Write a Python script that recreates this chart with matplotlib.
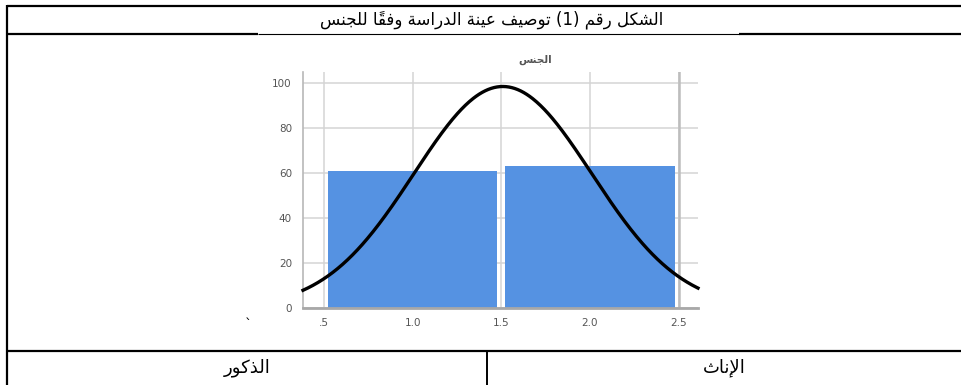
import numpy as np
import matplotlib
matplotlib.use("Agg")
import matplotlib.pyplot as plt
from matplotlib.lines import Line2D

# ---------------- data ----------------
categories = [1.0, 2.0]            # 1 = الذكور , 2 = الإناث
counts = [61, 63]
x_ticks = [0.5, 1.0, 1.5, 2.0, 2.5]
x_tick_labels = [".5", "1.0", "1.5", "2.0", "2.5"]
y_ticks = [0, 20, 40, 60, 80, 100]
chart_title = "الجنس"
figure_title = "الشكل رقم (1) توصيف عينة الدراسة وفقاً للجنس"
cell_labels = ["الذكور", "الإناث"]

# ---------------- minimal Arabic shaping ----------------
FORMS = {
    '\u0627': (0xFE8D, 0xFE8E, None, None), '\u0623': (0xFE83, 0xFE84, None, None),
    '\u0625': (0xFE87, 0xFE88, None, None), '\u0622': (0xFE81, 0xFE82, None, None),
    '\u0628': (0xFE8F, 0xFE90, 0xFE91, 0xFE92), '\u0629': (0xFE93, 0xFE94, None, None),
    '\u062A': (0xFE95, 0xFE96, 0xFE97, 0xFE98), '\u062B': (0xFE99, 0xFE9A, 0xFE9B, 0xFE9C),
    '\u062C': (0xFE9D, 0xFE9E, 0xFE9F, 0xFEA0), '\u062D': (0xFEA1, 0xFEA2, 0xFEA3, 0xFEA4),
    '\u062E': (0xFEA5, 0xFEA6, 0xFEA7, 0xFEA8), '\u062F': (0xFEA9, 0xFEAA, None, None),
    '\u0630': (0xFEAB, 0xFEAC, None, None), '\u0631': (0xFEAD, 0xFEAE, None, None),
    '\u0632': (0xFEAF, 0xFEB0, None, None), '\u0633': (0xFEB1, 0xFEB2, 0xFEB3, 0xFEB4),
    '\u0634': (0xFEB5, 0xFEB6, 0xFEB7, 0xFEB8), '\u0635': (0xFEB9, 0xFEBA, 0xFEBB, 0xFEBC),
    '\u0636': (0xFEBD, 0xFEBE, 0xFEBF, 0xFEC0), '\u0637': (0xFEC1, 0xFEC2, 0xFEC3, 0xFEC4),
    '\u0638': (0xFEC5, 0xFEC6, 0xFEC7, 0xFEC8), '\u0639': (0xFEC9, 0xFECA, 0xFECB, 0xFECC),
    '\u063A': (0xFECD, 0xFECE, 0xFECF, 0xFED0), '\u0641': (0xFED1, 0xFED2, 0xFED3, 0xFED4),
    '\u0642': (0xFED5, 0xFED6, 0xFED7, 0xFED8), '\u0643': (0xFED9, 0xFEDA, 0xFEDB, 0xFEDC),
    '\u0644': (0xFEDD, 0xFEDE, 0xFEDF, 0xFEE0), '\u0645': (0xFEE1, 0xFEE2, 0xFEE3, 0xFEE4),
    '\u0646': (0xFEE5, 0xFEE6, 0xFEE7, 0xFEE8), '\u0647': (0xFEE9, 0xFEEA, 0xFEEB, 0xFEEC),
    '\u0648': (0xFEED, 0xFEEE, None, None), '\u0649': (0xFEEF, 0xFEF0, None, None),
    '\u064A': (0xFEF1, 0xFEF2, 0xFEF3, 0xFEF4),
}
LAMALEF = {'\u0627': (0xFEFB, 0xFEFC), '\u0623': (0xFEF7, 0xFEF8),
           '\u0625': (0xFEF9, 0xFEFA), '\u0622': (0xFEF5, 0xFEF6)}
MIRROR = {'(': ')', ')': '('}


def is_mark(c):
    return '\u064B' <= c <= '\u0652'


def shape(s):
    toks = []
    i = 0
    while i < len(s):
        c = s[i]
        if c == '\u0644' and i + 1 < len(s) and s[i + 1] in LAMALEF:
            toks.append(('LA', s[i + 1]))
            i += 2
            continue
        toks.append(('C', c))
        i += 1

    def jn(t):
        if t[0] == 'LA':
            return False
        f = FORMS.get(t[1])
        return f is not None and f[2] is not None

    def jp(t):
        return t[0] == 'LA' or t[1] in FORMS

    clusters = []
    n = len(toks)
    for idx, t in enumerate(toks):
        kind, c = t
        if kind == 'C' and is_mark(c):
            if clusters:
                clusters[-1] += c
            else:
                clusters.append(c)
            continue
        p = idx - 1
        while p >= 0 and toks[p][0] == 'C' and is_mark(toks[p][1]):
            p -= 1
        q = idx + 1
        while q < n and toks[q][0] == 'C' and is_mark(toks[q][1]):
            q += 1
        pj = p >= 0 and jn(toks[p]) and jp(t)
        nj = q < n and jn(t) and jp(toks[q])
        if kind == 'LA':
            iso, fin = LAMALEF[c]
            clusters.append(chr(fin if pj else iso))
            continue
        if c not in FORMS:
            clusters.append(MIRROR.get(c, c))
            continue
        iso, fin, ini, med = FORMS[c]
        if pj and nj:
            g = med
        elif pj:
            g = fin
        elif nj:
            g = ini
        else:
            g = iso
        clusters.append(chr(g))
    return ''.join(clusters[::-1])


AR_FONT = ['DejaVu Sans']

# ---------------- figure ----------------
W, H = 962, 385
fig = plt.figure(figsize=(W / 100, H / 100), dpi=100)

# overlay in pixel coordinates for the table frame
ov = fig.add_axes([0, 0, 1, 1])
ov.set_xlim(0, W)
ov.set_ylim(H, 0)
ov.axis('off')

def hline(y, x0, x1, lw):
    ov.add_line(Line2D([x0, x1], [y, y], color='black', lw=lw, solid_capstyle='butt'))

def vline(x, y0, y1, lw):
    ov.add_line(Line2D([x, x], [y0, y1], color='black', lw=lw, solid_capstyle='butt'))

hline(6, 7, W, 1.6)
vline(7.5, 5, H, 1.6)
hline(34, 7, 258, 1.6)
hline(34, 258, 739, 0.8)
hline(34, 739, W, 1.6)
hline(351, 7, W, 1.6)
vline(487, 351, H, 1.4)

ov.text(492, 20, shape(figure_title), ha='center', va='center', fontsize=12,
        family=AR_FONT, color='black')
ov.text(247, 368, shape(cell_labels[0]), ha='center', va='center', fontsize=13,
        family=AR_FONT, color='black')
ov.text(724, 368, shape(cell_labels[1]), ha='center', va='center', fontsize=13,
        family=AR_FONT, color='black')
ov.text(248, 325, '`', ha='center', va='center', fontsize=10, color='black')

# chart axes
left, right, top, bottom = 303, 698, 72, 308
ax = fig.add_axes([left / W, 1 - bottom / H, (right - left) / W, (bottom - top) / H])
ax.set_xlim(0.38, 2.61)
ax.set_ylim(0, 105)
ax.set_axisbelow(True)
ax.grid(True, color='#d4d4d4', lw=1.1)
ax.axvline(x_ticks[-1], color='#bdbdbd', lw=1.8, zorder=0.6)
ax.bar(categories, counts, width=0.955, color='#5592e2', edgecolor='none', zorder=2)

# normal curve fitted to the histogram
vals = np.repeat(categories, counts)
mu = vals.mean()
sd = vals.std(ddof=1)
N = len(vals)
xs = np.linspace(0.38, 2.61, 400)
ys = N * 1.0 * np.exp(-0.5 * ((xs - mu) / sd) ** 2) / (sd * np.sqrt(2 * np.pi))
ax.plot(xs, ys, color='black', lw=2.4, zorder=3, clip_on=False)

ax.set_xticks(x_ticks)
ax.set_xticklabels(x_tick_labels)
ax.set_yticks(y_ticks)
ax.tick_params(length=0, labelsize=7.5, labelcolor='#555555')
ax.tick_params(axis='y', pad=8)
ax.tick_params(axis='x', pad=7)
for s in ['top', 'right']:
    ax.spines[s].set_visible(False)
ax.spines['left'].set_color('#b8b8b8')
ax.spines['left'].set_linewidth(1.2)
ax.spines['bottom'].set_color('#a8a8a8')
ax.spines['bottom'].set_linewidth(2)
ax.set_title(shape(chart_title), fontsize=7.5, color='#555555', family=AR_FONT,
             fontweight='bold', pad=7, x=0.588)

fig.savefig('out.png', dpi=100)
